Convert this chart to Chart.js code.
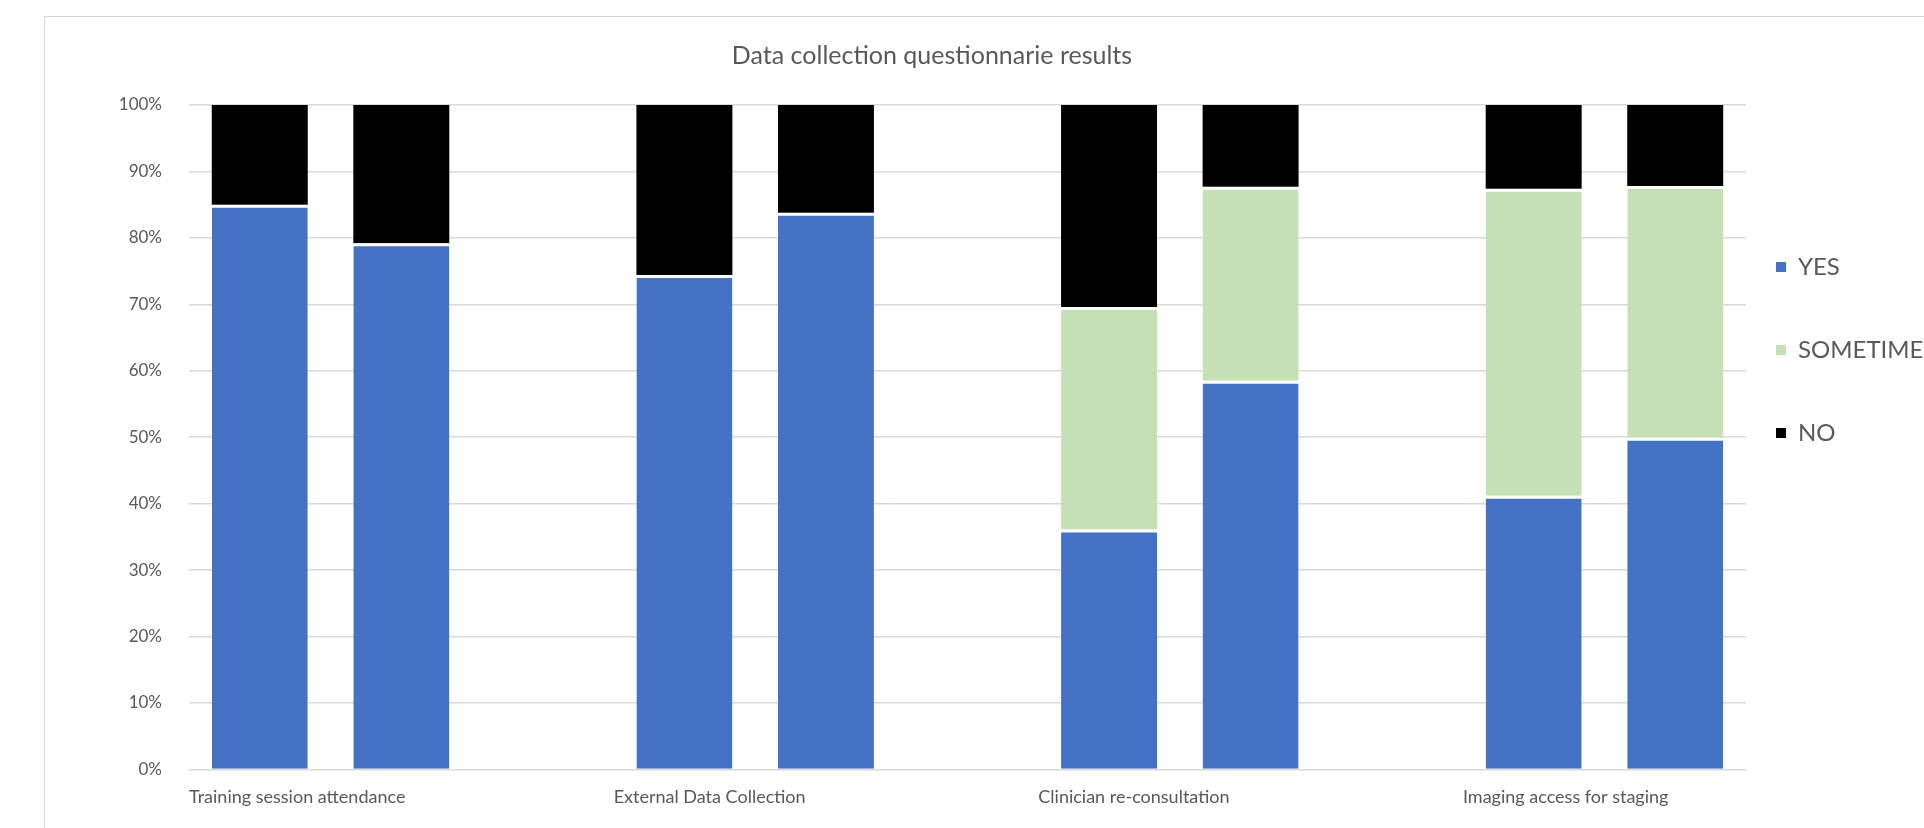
<!DOCTYPE html>
<html>
<head>
<meta charset="utf-8">
<title>Data collection questionnarie results</title>
<script src="https://cdn.jsdelivr.net/npm/chart.js@4/dist/chart.umd.min.js"></script>
<style>
  html, body { margin: 0; padding: 0; background: #ffffff; overflow: hidden; }
  #frame {
    position: absolute; left: 44px; top: 16px; width: 1920px; height: 900px;
    border: 1.5px solid #d9d9d9;
  }
  #wrap { position: absolute; left: 0; top: 0; width: 1924px; height: 828px; }
</style>
</head>
<body>
<div id="frame"></div>
<div id="wrap"><canvas id="questionnaireChart"></canvas></div>
<script>
// Chart data
const categories = [
  'Training session attendance',
  'External Data Collection',
  'Clinician re-consultation',
  'Imaging access for staging'
];
const seriesNames = ['YES', 'SOMETIMES', 'NO'];
// two bars per category, in percent
const yesValues = [85.0, 79.2, 74.4, 83.8, 36.1, 58.5, 41.2, 49.9];
const sometimesValues = [0, 0, 0, 0, 33.5, 29.2, 46.2, 37.9];
const noValues = [15.0, 20.8, 25.6, 16.2, 30.4, 12.3, 12.6, 12.2];
const yTicks = [0, 10, 20, 30, 40, 50, 60, 70, 80, 90, 100];

const textColor = '#595959';
const fontFamily = 'Lato, "Open Sans", sans-serif';

// Excel-style clustered stacked layout: two bars, then an empty slot
function buildSlots(values) {
  const out = [];
  categories.forEach((c, i) => {
    out.push(values[i * 2], values[i * 2 + 1]);
    if (i < categories.length - 1) out.push(null);
  });
  return out;
}

const slotLabels = [];
categories.forEach((c, i) => {
  slotLabels.push(c, '');
  if (i < categories.length - 1) slotLabels.push('');
});

// legend labels as one-line arrays so the line height sets the spacing
function legendLabels(chart) {
  return Chart.defaults.plugins.legend.labels.generateLabels(chart).map(item => {
    item.text = [item.text];
    item.lineWidth = 0;
    return item;
  });
}

const ctx = document.getElementById('questionnaireChart').getContext('2d');
const questionnaireChart = new Chart(ctx, {
  type: 'bar',
  data: {
    labels: slotLabels,
    datasets: [
      {
        label: seriesNames[0],
        data: buildSlots(yesValues),
        backgroundColor: '#4472c4',
        borderColor: '#ffffff',
        borderWidth: { top: 3, left: 0, right: 0, bottom: 0 },
        borderSkipped: false
      },
      {
        label: seriesNames[1],
        data: buildSlots(sometimesValues),
        backgroundColor: '#c5e0b4',
        borderColor: '#ffffff',
        borderWidth: { top: 3, left: 0, right: 0, bottom: 0 },
        borderSkipped: false
      },
      {
        label: seriesNames[2],
        data: buildSlots(noValues),
        backgroundColor: '#000000',
        borderWidth: 0
      }
    ]
  },
  options: {
    responsive: true,
    maintainAspectRatio: false,
    devicePixelRatio: 1,
    animation: false,
    datasets: {
      bar: { categoryPercentage: 1, barPercentage: 0.678 }
    },
    layout: {
      // negative left padding keeps the title centred where Excel put it
      padding: { left: -60, right: 0, top: 0, bottom: 3 }
    },
    scales: {
      x: {
        stacked: true,
        grid: { display: false, drawTicks: false },
        border: { display: false },
        ticks: {
          autoSkip: false,
          maxRotation: 0,
          minRotation: 0,
          align: 'start',
          labelOffset: -70.75,
          padding: 17,
          color: textColor,
          font: { family: fontFamily, size: 18 }
        }
      },
      y: {
        stacked: true,
        min: 0,
        max: 100,
        afterFit: scale => { scale.width = 249; },
        afterBuildTicks: scale => { scale.ticks = yTicks.map(v => ({ value: v })); },
        grid: { color: '#d9d9d9', lineWidth: 1.5, drawTicks: false },
        border: { display: false },
        ticks: {
          padding: 27,
          color: textColor,
          font: { family: fontFamily, size: 17 },
          callback: value => value + '%'
        }
      }
    },
    plugins: {
      title: {
        display: true,
        text: 'Data collection questionnarie results',
        color: textColor,
        font: { family: fontFamily, size: 25, weight: 'normal' },
        padding: { top: 41, bottom: 34 }
      },
      legend: {
        position: 'right',
        align: 'start',
        maxWidth: 178,
        title: { display: true, text: '', font: { size: 10 }, padding: { top: 213, bottom: 0 } },
        labels: {
          boxWidth: 10,
          boxHeight: 10,
          padding: 30,
          color: textColor,
          font: { family: fontFamily, size: 24, lineHeight: 53 / 24 },
          generateLabels: legendLabels
        }
      },
      tooltip: { enabled: false }
    }
  }
});
</script>
</body>
</html>
